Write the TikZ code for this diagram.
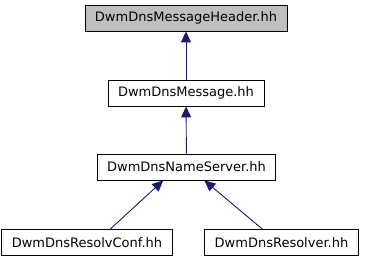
\documentclass[tikz,border=0pt]{standalone}
\usepackage{fontspec}
\setmainfont{DejaVu Sans}
\usepackage{xcolor}
\usetikzlibrary{positioning,arrows.meta}
\definecolor{edgeblue}{HTML}{191970}
\definecolor{cur}{HTML}{BFBFBF}

\begin{document}
\begin{tikzpicture}[
  x=1pt, y=-1pt,
  font=\fontsize{13}{15}\selectfont,
  file/.style={draw, fill=white, line width=0.9pt, minimum height=26pt, inner xsep=10pt, inner ysep=0pt},
  arr/.style={-{Triangle[length=11pt, width=10pt]}, edgeblue, line width=0.9pt}]

\useasboundingbox (0,0) rectangle (365,261);

\node[file, fill=cur] (hdr) at (186,18) {DwmDnsMessageHeader.hh};
\node[file] (msg) at (186,93) {DwmDnsMessage.hh};
\node[file] (ns) at (186.5,167) {DwmDnsNameServer.hh};
\node[file] (rc) at (87,242.5) {DwmDnsResolvConf.hh};
\node[file] (rs) at (281.5,242.5) {DwmDnsResolver.hh};

\draw[arr] (msg) -- (hdr);
\draw[arr] (ns) -- (msg);
\draw[arr] (rc.30) -- (ns.-150);
\draw[arr] (rs.145) -- (ns.-37);
\end{tikzpicture}
\end{document}
